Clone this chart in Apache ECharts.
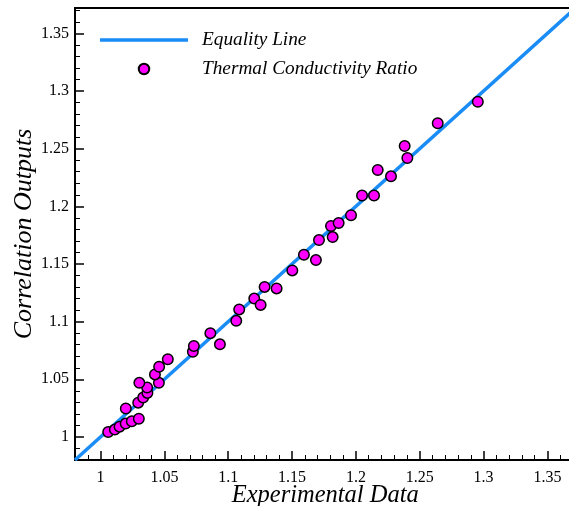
<!DOCTYPE html>
<html>
<head>
<meta charset="utf-8">
<script src="https://cdn.jsdelivr.net/npm/echarts@6/dist/echarts.min.js"></script>
<style>html,body{margin:0;padding:0;background:#fff;}#c{width:569px;height:506px;}</style>
</head>
<body>
<div id="c"></div>
<script>
// Data
const expData = [1.0060,1.0112,1.0149,1.0197,1.0245,1.0300,1.0198,1.0295,1.0334,1.0367,1.0365,1.0304,1.0457,1.0426,1.0459,1.0527,1.0723,1.0731,1.0935,1.0860,1.1063,1.1086,1.1204,1.1254,1.1285,1.1379,1.1502,1.1593,1.1687,1.1711,1.1818,1.1805,1.1865,1.1962,1.2048,1.2142,1.2171,1.2275,1.2382,1.2403,1.2641,1.2955];
const corrOut = [1.0043,1.0064,1.0089,1.0116,1.0136,1.0158,1.0247,1.0297,1.0342,1.0382,1.0429,1.0469,1.0469,1.0542,1.0609,1.0674,1.0738,1.0789,1.0803,1.0900,1.1007,1.1106,1.1200,1.1145,1.1301,1.1288,1.1444,1.1580,1.1534,1.1707,1.1733,1.1829,1.1855,1.1923,1.2094,1.2094,1.2315,1.2260,1.2523,1.2419,1.2720,1.2907];
const equalityX = [0.98, 1.372];
const equalityY = [0.98, 1.372];
const xTicks = [1, 1.05, 1.1, 1.15, 1.2, 1.25, 1.3, 1.35];
const yTicks = [1, 1.05, 1.1, 1.15, 1.2, 1.25, 1.3, 1.35];
const axisMin = 0.98, axisMax = 1.372;

const minorTicks = [];
for (let i = 98; i <= 137; i++) { if (i % 5 !== 0) minorTicks.push(i / 100); }

const serif = '"Liberation Serif","DejaVu Serif",serif';
const chart = echarts.init(document.getElementById('c'), null, {renderer: 'canvas'});

function mainAxis(extra) {
  return Object.assign({
    type: 'value', min: axisMin, max: axisMax,
    axisLine: {show: true, onZero: false, lineStyle: {color: '#000', width: 2}},
    axisTick: {show: true, inside: true, length: 9, lineStyle: {color: '#000', width: 1.5}, customValues: xTicks},
    axisLabel: {show: true, color: '#000', fontFamily: serif, fontSize: 16, customValues: xTicks},
    splitLine: {show: false}
  }, extra);
}
function minorAxis(extra) {
  return Object.assign({
    type: 'value', min: axisMin, max: axisMax,
    axisLine: {show: false},
    axisTick: {show: true, inside: true, length: 5, lineStyle: {color: '#000', width: 1}, customValues: minorTicks},
    axisLabel: {show: false},
    splitLine: {show: false}
  }, extra);
}

const option = {
  backgroundColor: '#fff',
  animation: false,
  grid: {left: 75, top: 8, right: -6.5, bottom: 46, containLabel: false, outerBoundsMode: 'none',
    show: true, borderColor: '#000', borderWidth: 2, backgroundColor: 'transparent'},
  legend: {
    orient: 'vertical', left: 95, top: 25,
    itemWidth: 88, itemHeight: 10.5, itemGap: 9,
    textStyle: {fontFamily: serif, fontStyle: 'italic', fontSize: 19.3, color: '#000', lineHeight: 20, padding: [0, 0, 0, 9]},
    data: [
      {name: 'Equality Line', icon: 'path://M0,0H88V3.5H0Z', itemStyle: {color: '#1a8cf5'}},
      {name: 'Thermal Conductivity Ratio', icon: 'circle'}
    ]
  },
  xAxis: [
    mainAxis({position: 'bottom', name: 'Experimental Data', nameLocation: 'middle', nameGap: 23, nameMoveOverlap: false,
      nameTextStyle: {fontFamily: serif, fontStyle: 'italic', fontSize: 24.5, color: '#000'},
      axisLabel: {show: true, color: '#000', fontFamily: serif, fontSize: 16, margin: 10, customValues: xTicks}}),
    minorAxis({position: 'bottom'})
  ],
  yAxis: [
    mainAxis({position: 'left', name: 'Correlation Outputs', nameLocation: 'middle', nameGap: 38, nameMoveOverlap: false,
      nameTextStyle: {fontFamily: serif, fontStyle: 'italic', fontSize: 26, color: '#000'},
      axisTick: {show: true, inside: true, length: 9, lineStyle: {color: '#000', width: 1.5}, customValues: yTicks},
      axisLabel: {show: true, color: '#000', fontFamily: serif, fontSize: 16, margin: 6, customValues: yTicks}}),
    minorAxis({position: 'left'})
  ],
  series: [
    {
      name: 'Equality Line', type: 'line', xAxisIndex: 0, yAxisIndex: 0,
      data: equalityX.map((x, i) => [x, equalityY[i]]),
      symbol: 'none', showSymbol: false,
      lineStyle: {color: '#1a8cf5', width: 3.5},
      itemStyle: {color: '#1a8cf5'},
      z: 2
    },
    {
      name: 'Thermal Conductivity Ratio', type: 'scatter', xAxisIndex: 0, yAxisIndex: 0,
      data: expData.map((x, i) => [x, corrOut[i]]),
      symbol: 'circle', symbolSize: 10.5,
      itemStyle: {color: '#ff00ff', borderColor: '#000', borderWidth: 1.5, opacity: 1},
      z: 3
    }
  ]
};
chart.setOption(option);
</script>
</body>
</html>
